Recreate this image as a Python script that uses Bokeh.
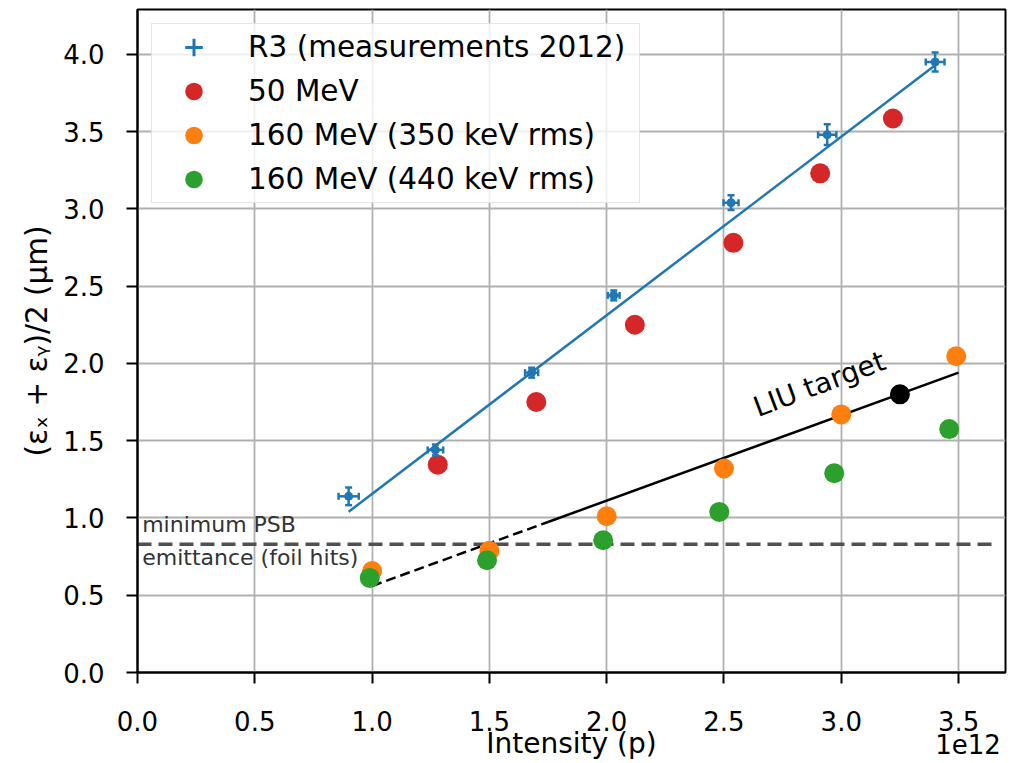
from bokeh.plotting import figure
from bokeh.models import (ColumnDataSource, Whisker, TeeHead, Label, Legend, LegendItem,
                          Range1d, FixedTicker, NumeralTickFormatter, LinearAxis)
from bokeh.embed import file_html
from bokeh.resources import INLINE

# ---------------- data (intensity in units of 1e12 protons) ----------------
r3_intensity = [0.90, 1.27, 1.68, 2.03, 2.53, 2.94, 3.40]
r3_emittance = [1.14, 1.44, 1.94, 2.44, 3.04, 3.48, 3.95]
r3_intensity_err = [0.043, 0.033, 0.028, 0.025, 0.032, 0.039, 0.040]
r3_emittance_err = [0.057, 0.035, 0.032, 0.032, 0.048, 0.067, 0.061]
r3_fit_x = [0.90, 3.40]
r3_fit_y = [1.04, 3.93]

mev50_x = [1.28, 1.70, 2.12, 2.54, 2.91, 3.22]
mev50_y = [1.345, 1.75, 2.25, 2.78, 3.23, 3.585]

mev160_350_x = [1.00, 1.50, 2.00, 2.50, 3.00, 3.49]
mev160_350_y = [0.657, 0.787, 1.011, 1.32, 1.67, 2.046]

mev160_440_x = [0.99, 1.49, 1.985, 2.48, 2.97, 3.46]
mev160_440_y = [0.612, 0.726, 0.856, 1.039, 1.29, 1.575]

liu_target_x = [3.25]
liu_target_y = [1.80]
liu_dashed_x = [1.00, 1.75]
liu_dashed_y = [0.56, 0.974]
liu_solid_x = [1.75, 3.50]
liu_solid_y = [0.974, 1.94]

foil_limit_x = [0.0, 3.65]
foil_limit_y = [0.83, 0.83]

x_ticks = [0.0, 0.5, 1.0, 1.5, 2.0, 2.5, 3.0, 3.5]
y_ticks = [0.0, 0.5, 1.0, 1.5, 2.0, 2.5, 3.0, 3.5, 4.0]

legend_labels = ["R3 (measurements 2012)", "50 MeV", "160 MeV (350 keV rms)", "160 MeV (440 keV rms)"]
x_title = "Intensity (p)"
y_title = "(εₓ + εᵧ)/2 (μm)"
x_offset_text = "1e12"
x_offset_text_pos = 3.54

BLUE = "#1f77b4"
RED = "#d62728"
ORANGE = "#ff7f0e"
GREEN = "#2ca02c"
FONT = "DejaVu Sans"

p = figure(width=1030, height=763, output_backend="svg", toolbar_location=None,
           x_range=Range1d(0, 3.70), y_range=Range1d(0, 4.29),
           min_border_left=137, min_border_right=25, min_border_top=9, min_border_bottom=91)

p.background_fill_color = "white"
p.border_fill_color = "white"
p.outline_line_color = "black"
p.outline_line_width = 2

for ax in (p.xaxis[0], p.yaxis[0]):
    ax.major_label_text_font = FONT
    ax.major_label_text_font_size = "26px"
    ax.major_label_text_color = "black"
    ax.major_tick_out = 11
    ax.major_tick_in = 0
    ax.major_tick_line_width = 2
    ax.major_tick_line_color = "black"
    ax.minor_tick_line_color = None
    ax.axis_line_color = "black"
    ax.axis_line_width = 2
    ax.formatter = NumeralTickFormatter(format="0.0")

p.xaxis.ticker = FixedTicker(ticks=x_ticks)
p.yaxis.ticker = FixedTicker(ticks=y_ticks)
p.xaxis.major_label_standoff = 27
p.yaxis.major_label_standoff = 22

p.yaxis.axis_label = y_title
p.yaxis.axis_label_text_font = FONT
p.yaxis.axis_label_text_font_size = "29.5px"
p.yaxis.axis_label_text_font_style = "normal"
p.yaxis.axis_label_text_color = "black"
p.yaxis.axis_label_standoff = 6

# second (outer) x axis carrying the offset text "1e12" and the axis title on one row
xa2 = LinearAxis(ticker=FixedTicker(ticks=[x_offset_text_pos]),
                 major_label_overrides={x_offset_text_pos: x_offset_text})
xa2.axis_line_color = None
xa2.major_tick_line_color = None
xa2.minor_tick_line_color = None
xa2.major_tick_out = 0
xa2.major_tick_in = 0
xa2.major_label_standoff = 0
xa2.major_label_text_font = FONT
xa2.major_label_text_font_size = "26px"
xa2.major_label_text_color = "black"
xa2.axis_label = x_title
xa2.axis_label_text_font = FONT
xa2.axis_label_text_font_size = "28px"
xa2.axis_label_text_font_style = "normal"
xa2.axis_label_text_color = "black"
xa2.axis_label_standoff = -30
p.add_layout(xa2, "below")

p.grid.grid_line_color = "#b0b0b0"
p.grid.grid_line_width = 1.8
p.xgrid.ticker = FixedTicker(ticks=x_ticks)
p.ygrid.ticker = FixedTicker(ticks=y_ticks)

# lines
p.line(foil_limit_x, foil_limit_y, line_color="#505050", line_width=3.5, line_dash="14 7")
p.line(liu_dashed_x, liu_dashed_y, line_color="black", line_width=2.5, line_dash="10 5")
p.line(liu_solid_x, liu_solid_y, line_color="black", line_width=2.5)
p.line(r3_fit_x, r3_fit_y, line_color=BLUE, line_width=2.5)

# R3 error bars
r3_src = ColumnDataSource(dict(
    x=r3_intensity, y=r3_emittance,
    xl=[a - e for a, e in zip(r3_intensity, r3_intensity_err)],
    xu=[a + e for a, e in zip(r3_intensity, r3_intensity_err)],
    yl=[a - e for a, e in zip(r3_emittance, r3_emittance_err)],
    yu=[a + e for a, e in zip(r3_emittance, r3_emittance_err)],
))
for dim, base, lo, up in (("height", "x", "yl", "yu"), ("width", "y", "xl", "xu")):
    p.add_layout(Whisker(source=r3_src, base=base, lower=lo, upper=up, dimension=dim,
                         line_color=BLUE, line_width=2.5, level="glyph",
                         lower_head=TeeHead(size=7, line_color=BLUE, line_width=2.5),
                         upper_head=TeeHead(size=7, line_color=BLUE, line_width=2.5)))
p.scatter("x", "y", source=r3_src, size=8, color=BLUE, line_color=BLUE)

# legend-only glyph for the R3 entry (zero size in the plot)
r3_leg_cross = p.scatter(r3_intensity, r3_emittance, marker="cross", size=0,
                         line_color=BLUE, line_width=3)

# scatter series
r_red = p.scatter(mev50_x, mev50_y, size=20, fill_color=RED, line_color=None)
r_orange = p.scatter(mev160_350_x, mev160_350_y, size=20, fill_color=ORANGE, line_color=None)
r_green = p.scatter(mev160_440_x, mev160_440_y, size=20, fill_color=GREEN, line_color=None)
p.scatter(liu_target_x, liu_target_y, size=20, fill_color="black", line_color=None)

legend = Legend(items=[
    LegendItem(label=legend_labels[0], renderers=[r3_leg_cross]),
    LegendItem(label=legend_labels[1], renderers=[r_red]),
    LegendItem(label=legend_labels[2], renderers=[r_orange]),
    LegendItem(label=legend_labels[3], renderers=[r_green]),
], location="top_left")
legend.margin = 14
legend.padding = 1
legend.spacing = 0
legend.glyph_width = 81
legend.glyph_height = 44
legend.label_standoff = 14
legend.label_width = 390
legend.label_text_font = FONT
legend.label_text_font_size = "29.5px"
legend.label_text_color = "black"
legend.border_line_color = "#cccccc"
legend.border_line_width = 1.5
legend.background_fill_color = "white"
legend.background_fill_alpha = 0.8
p.add_layout(legend)

# annotations inside the plot
p.add_layout(Label(x=0.02, y=0.877, text="minimum PSB", text_font=FONT,
                   text_font_size="22px", text_color="#333333"))
p.add_layout(Label(x=0.02, y=0.662, text="emittance (foil hits)", text_font=FONT,
                   text_font_size="22px", text_color="#333333"))
p.add_layout(Label(x=2.655, y=1.61, text="LIU target", text_font=FONT,
                   text_font_size="28px", text_color="black", angle=20.5, angle_units="deg"))

open("out.html", "w").write(file_html(p, INLINE))
